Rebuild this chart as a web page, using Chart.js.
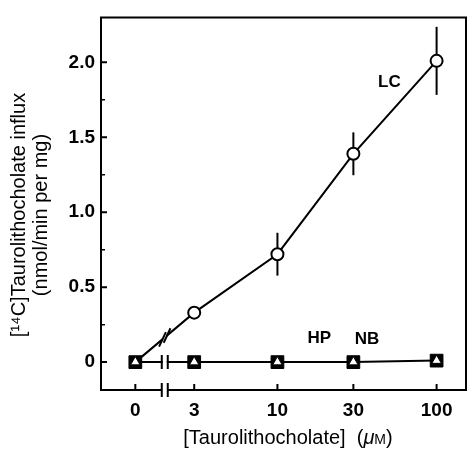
<!DOCTYPE html>
<html><head><meta charset="utf-8">
<script src="https://cdn.jsdelivr.net/npm/chart.js@4/dist/chart.umd.min.js"></script>
<style>html,body{margin:0;padding:0;background:#fff;}#wrap{width:476px;height:450px;position:relative;}</style>
</head><body><div id="wrap"><canvas id="c" width="476" height="450"></canvas></div>
<script>
// ---- data ----
const concentrations = [0, 3, 10, 30, 100];
const xTickLabels = ['0', '3', '10', '30', '100'];
const lcValues = [0, 0.33, 0.72, 1.39, 2.01];
const lcErrors = [0, 0.04, 0.143, 0.143, 0.227];
const hpValues = [0, 0, 0, 0, 0.01];
const nbValues = [0, 0, 0, 0, 0.01];
const yTickValues = [0, 0.5, 1.0, 1.5, 2.0];
const yTickLabels = ['0', '0.5', '1.0', '1.5', '2.0'];
const yMinorTicks = [0.25, 0.75, 1.25, 1.75];
const seriesNames = ['LC', 'HP', 'NB'];
const xTitleParts = ['[Taurolithocholate]  (', 'μ', 'M', ')'];
const yTitleLines = ['[¹⁴C]Taurolithocholate influx', '(nmol/min per mg)'];

const ZERO_POS = 1.28; // broken axis: where "0" is placed on the log scale
const toX = c => (c === 0 ? ZERO_POS : c);
const pts = vals => concentrations.map((c, i) => ({ x: toX(c), y: vals[i] }));

const FONT = "'Liberation Sans', Arial, Helvetica, sans-serif";

const deco = {
  id: 'deco',
  beforeDatasetsDraw(chart) {
    const { ctx, scales: { x, y } } = chart;
    ctx.save();
    ctx.strokeStyle = '#000';
    ctx.lineWidth = 2;
    concentrations.forEach((c, i) => {
      const e = lcErrors[i];
      if (!e) return;
      const px = x.getPixelForValue(toX(c));
      ctx.beginPath();
      ctx.moveTo(px, y.getPixelForValue(lcValues[i] + e));
      ctx.lineTo(px, y.getPixelForValue(lcValues[i] - e));
      ctx.stroke();
    });
    ctx.restore();
  },
  afterDraw(chart) {
    const { ctx, chartArea: a, scales: { x, y } } = chart;
    ctx.save();
    ctx.strokeStyle = '#000';
    ctx.fillStyle = '#000';
    ctx.lineWidth = 2;
    const x0 = x.getPixelForValue(ZERO_POS), x3 = x.getPixelForValue(3);
    const bx = (x0 + x3) / 2;
    const gap = 3;
    // frame with break on bottom axis
    ctx.beginPath();
    ctx.moveTo(bx - gap, a.bottom); ctx.lineTo(a.left, a.bottom);
    ctx.lineTo(a.left, a.top); ctx.lineTo(a.right, a.top);
    ctx.lineTo(a.right, a.bottom); ctx.lineTo(bx + gap, a.bottom);
    ctx.stroke();
    ctx.beginPath();
    ctx.moveTo(bx - gap, a.bottom - 7); ctx.lineTo(bx - gap, a.bottom + 7);
    ctx.moveTo(bx + gap, a.bottom - 7); ctx.lineTo(bx + gap, a.bottom + 7);
    ctx.stroke();
    // tick marks (inward)
    ctx.beginPath();
    [ZERO_POS, 3, 10, 30, 100].forEach(v => {
      const px = x.getPixelForValue(v);
      ctx.moveTo(px, a.bottom); ctx.lineTo(px, a.bottom - 6);
    });
    yTickValues.forEach(v => {
      const py = y.getPixelForValue(v);
      ctx.moveTo(a.left, py); ctx.lineTo(a.left + 6, py);
    });
    ctx.stroke();
    ctx.lineWidth = 1.5;
    ctx.beginPath();
    yMinorTicks.forEach(v => {
      const py = y.getPixelForValue(v);
      ctx.moveTo(a.left, py); ctx.lineTo(a.left + 4, py);
    });
    ctx.stroke();
    ctx.lineWidth = 2;
    // break on zero line
    const zy = y.getPixelForValue(0);
    ctx.fillStyle = '#fff';
    ctx.fillRect(bx - gap + 1, zy - 3, 2 * gap - 2, 6);
    ctx.beginPath();
    ctx.moveTo(bx - gap, zy - 7); ctx.lineTo(bx - gap, zy + 7);
    ctx.moveTo(bx + gap, zy - 7); ctx.lineTo(bx + gap, zy + 7);
    ctx.stroke();
    // break on LC line
    const ly0 = y.getPixelForValue(lcValues[0]), ly1 = y.getPixelForValue(lcValues[1]);
    const by = (ly0 + ly1) / 2;
    const ang = Math.atan2(ly1 - ly0, x3 - x0);
    ctx.save();
    ctx.translate(bx, by);
    ctx.rotate(ang);
    ctx.fillRect(-gap + 0.5, -3, 2 * gap - 1, 6);
    ctx.restore();
    const ma = -65 * Math.PI / 180;
    [-gap, gap].forEach(d => {
      const cx = bx + d * Math.cos(ang), cy = by + d * Math.sin(ang);
      ctx.beginPath();
      ctx.moveTo(cx - 8 * Math.cos(ma), cy - 8 * Math.sin(ma));
      ctx.lineTo(cx + 8 * Math.cos(ma), cy + 8 * Math.sin(ma));
      ctx.stroke();
    });
    // series labels
    ctx.fillStyle = '#000';
    ctx.font = 'bold 17px ' + FONT;
    ctx.textAlign = 'center';
    ctx.textBaseline = 'middle';
    const labelAt = [[50.5, 1.87], [18.3, 0.16], [36.5, 0.15]];
    seriesNames.forEach((n, i) => {
      ctx.fillText(n, x.getPixelForValue(labelAt[i][0]), y.getPixelForValue(labelAt[i][1]));
    });
    // y title
    ctx.save();
    ctx.font = '20px ' + FONT;
    ctx.translate(19, 215);
    ctx.rotate(-Math.PI / 2);
    ctx.fillText(yTitleLines[0], 0, 0);
    ctx.fillText(yTitleLines[1], 0, 22);
    ctx.restore();
    // x title
    const fonts = ['20px ' + FONT, 'italic 20px ' + FONT, '14px ' + FONT, '20px ' + FONT];
    let total = 0;
    xTitleParts.forEach((p, i) => { ctx.font = fonts[i]; total += ctx.measureText(p).width; });
    let tx = 288 - total / 2;
    ctx.textAlign = 'left';
    ctx.textBaseline = 'alphabetic';
    xTitleParts.forEach((p, i) => {
      ctx.font = fonts[i];
      ctx.fillText(p, tx, 444);
      tx += ctx.measureText(p).width;
    });
    ctx.restore();
  }
};

new Chart(document.getElementById('c'), {
  type: 'line',
  data: {
    datasets: [
      {
        label: seriesNames[1], data: pts(hpValues), showLine: false,
        pointStyle: 'triangle', pointRadius: 5.5, pointBackgroundColor: '#fff',
        pointBorderColor: '#000', pointBorderWidth: 1, order: 0
      },
      {
        label: seriesNames[2], data: pts(nbValues), borderColor: '#000', borderWidth: 2,
        pointStyle: 'rect', pointRadius: 9, pointBackgroundColor: '#000',
        pointBorderColor: '#000', pointBorderWidth: 1, order: 1
      },
      {
        label: seriesNames[0], data: pts(lcValues), borderColor: '#000', borderWidth: 2,
        pointStyle: 'circle', pointRadius: c => (c.dataIndex === 0 ? 0 : 6),
        pointBackgroundColor: '#fff', pointBorderColor: '#000', pointBorderWidth: 2, order: 2
      }
    ]
  },
  options: {
    responsive: false, animation: false,
    layout: { padding: { top: 16, right: 3, left: 0, bottom: 0 } },
    plugins: { legend: { display: false }, tooltip: { enabled: false } },
    scales: {
      x: {
        type: 'logarithmic', min: 0.779, max: 153,
        grid: { display: false, drawTicks: false }, border: { display: false },
        afterBuildTicks: s => { s.ticks = concentrations.map(c => ({ value: toX(c) })); },
        afterFit: s => { s.height = 60; },
        ticks: {
          autoSkip: false, maxRotation: 0, padding: 9, color: '#000',
          font: { family: FONT, size: 19, weight: 'bold' },
          callback: (v, i) => xTickLabels[i]
        }
      },
      y: {
        min: -0.186, max: 2.3,
        grid: { display: false, drawTicks: false }, border: { display: false },
        afterBuildTicks: s => { s.ticks = yTickValues.map(v => ({ value: v })); },
        afterFit: s => { s.width = 101; },
        ticks: {
          autoSkip: false, padding: 6, color: '#000',
          font: { family: FONT, size: 19, weight: 'bold' },
          callback: (v, i) => yTickLabels[i]
        }
      }
    }
  },
  plugins: [deco]
});
</script></body></html>
